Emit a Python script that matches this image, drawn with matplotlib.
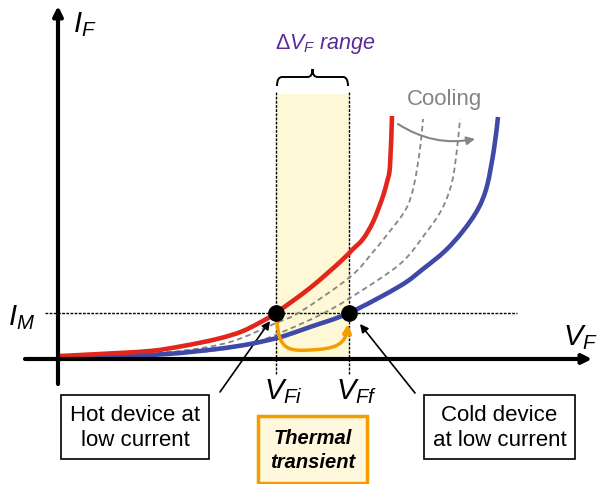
import matplotlib
matplotlib.use("Agg")
import matplotlib.pyplot as plt
import numpy as np
from matplotlib.path import Path
from matplotlib.patches import FancyArrowPatch, PathPatch, Rectangle

plt.rcParams['font.family'] = ['Liberation Sans', 'DejaVu Sans']
plt.rcParams['mathtext.fontset'] = 'custom'
plt.rcParams['mathtext.rm'] = 'Liberation Sans'
plt.rcParams['mathtext.it'] = 'Liberation Sans:italic'
plt.rcParams['mathtext.bf'] = 'Liberation Sans:bold'

# I-V curves (V, I in arbitrary units)
hot_v = [0.02, 0.42, 0.92, 1.25, 1.59, 1.85, 2.12, 2.18, 2.52, 2.82, 2.94, 3.05, 3.15, 3.24, 3.29, 3.32, 3.34]
hot_i = [0.03, 0.05, 0.08, 0.13, 0.20, 0.28, 0.42, 0.46, 0.71, 0.97, 1.09, 1.20, 1.37, 1.60, 1.77, 1.93, 2.43]

cold_v = [0.02, 0.42, 1.09, 1.59, 1.92, 2.19, 2.32, 2.52, 2.91, 3.42, 3.65, 3.87, 4.05, 4.20, 4.29, 4.36, 4.40]
cold_i = [0.02, 0.02, 0.05, 0.10, 0.15, 0.21, 0.25, 0.32, 0.46, 0.73, 0.90, 1.08, 1.28, 1.50, 1.73, 2.10, 2.42]

mid1_v = [0.72, 1.22, 1.72, 2.18, 2.42, 2.92, 3.15, 3.32, 3.48, 3.56, 3.62, 3.65]
mid1_i = [0.05, 0.08, 0.17, 0.36, 0.47, 0.82, 1.07, 1.28, 1.50, 1.74, 2.10, 2.40]

mid2_v = [0.92, 1.52, 1.92, 2.22, 2.62, 2.92, 3.42, 3.67, 3.84, 3.94, 3.99, 4.02]
mid2_i = [0.04, 0.08, 0.15, 0.26, 0.44, 0.61, 0.95, 1.25, 1.50, 1.77, 2.10, 2.40]

i_m = 0.46
v_fi = 2.18
v_ff = 2.91

RED = '#e2261c'
BLUE = '#3f4aa8'
ORANGE = '#f59c00'
PURPLE = '#5b2a96'
GREY = '#858585'


def smooth_path(xs, ys):
    # catmull-rom through the read points, drawn as cubic bezier segments
    p = np.column_stack([xs, ys])
    p = np.vstack([p[0], p, p[-1]])
    verts = [p[1]]
    codes = [Path.MOVETO]
    for k in range(1, len(p) - 2):
        c1 = p[k] + (p[k + 1] - p[k - 1]) / 6
        c2 = p[k + 1] - (p[k + 2] - p[k]) / 6
        verts += [c1, c2, p[k + 1]]
        codes += [Path.CURVE4] * 3
    return Path(verts, codes)


fig = plt.figure(figsize=(6, 4.85), dpi=100)
ax = fig.add_axes([0, 0, 1, 1])
ax.set_xlim(-0.58, 5.42)
ax.set_ylim(-1.25, 3.60)
ax.axis('off')

# shaded range
ax.add_patch(Rectangle((v_fi, 0), v_ff - v_fi, 2.65, facecolor='#fff8d6', edgecolor='none', zorder=0))

# dashed guides
for v in (v_fi, v_ff):
    ax.plot([v, v], [-0.15, 2.67], color='k', lw=1.0, ls=(0, (2, 1)), zorder=2)
ax.plot([-0.13, 4.59], [i_m, i_m], color='k', lw=1.0, ls=(0, (2, 1)), zorder=2)

# axes with arrows
ax.annotate('', xy=(0, 3.53), xytext=(0, -0.25),
            arrowprops=dict(arrowstyle='-|>', lw=3, color='k', mutation_scale=14, shrinkA=0, shrinkB=0), zorder=5)
ax.annotate('', xy=(5.34, 0), xytext=(-0.33, 0),
            arrowprops=dict(arrowstyle='-|>', lw=3, color='k', mutation_scale=14, shrinkA=0, shrinkB=0), zorder=5)

# curves
for cv, ci in ((mid1_v, mid1_i), (mid2_v, mid2_i)):
    ax.add_patch(PathPatch(smooth_path(cv, ci), facecolor='none', edgecolor=GREY, lw=1.3,
                           ls=(0, (3, 2)), zorder=3))
ax.add_patch(PathPatch(smooth_path(cold_v, cold_i), facecolor='none', edgecolor=BLUE, lw=3.3,
                       capstyle='butt', zorder=4))
ax.add_patch(PathPatch(smooth_path(hot_v, hot_i), facecolor='none', edgecolor=RED, lw=3.3,
                       capstyle='butt', zorder=4))

# thermal transient path
tp = Path([(2.19, 0.40), (2.20, 0.08), (2.32, 0.08), (2.52, 0.09),
           (2.77, 0.10), (2.88, 0.14), (2.90, 0.35)],
          [Path.MOVETO, Path.CURVE4, Path.CURVE4, Path.CURVE4,
           Path.CURVE4, Path.CURVE4, Path.CURVE4])
ax.add_patch(FancyArrowPatch(path=tp, arrowstyle='-|>', mutation_scale=12, lw=2.5,
                             color=ORANGE, zorder=5))

# operating points
ax.plot([v_fi, v_ff], [i_m, i_m], 'o', color='k', ms=11, zorder=6)

# brace
x0, x1 = v_fi + 0.01, v_ff - 0.01
xm = (x0 + x1) / 2
bp = Path([(x0, 2.73), (x0, 2.82), (x0 + 0.05, 2.82), (xm - 0.05, 2.82), (xm, 2.82), (xm, 2.90),
           (xm, 2.82), (xm + 0.05, 2.82), (x1 - 0.05, 2.82), (x1, 2.82), (x1, 2.73)],
          [Path.MOVETO, Path.CURVE3, Path.CURVE3, Path.LINETO, Path.CURVE3, Path.CURVE3,
           Path.CURVE3, Path.CURVE3, Path.LINETO, Path.CURVE3, Path.CURVE3])
ax.add_patch(PathPatch(bp, facecolor='none', edgecolor='k', lw=1.4))

# labels
ax.text(0.27, 3.35, r'$I_F$', fontsize=21, ha='center', va='center')
ax.text(-0.36, 0.42, r'$I_M$', fontsize=21, ha='center', va='center')
ax.text(5.22, 0.22, r'$V_F$', fontsize=21, ha='center', va='center')
ax.text(2.25, -0.32, r'$V_{Fi}$', fontsize=21, ha='center', va='center')
ax.text(2.99, -0.32, r'$V_{Ff}$', fontsize=21, ha='center', va='center')
ax.text(2.67, 3.16, r'$\Delta V_F\ range$', fontsize=15.5, color=PURPLE, ha='center', va='center')
ax.text(3.86, 2.60, 'Cooling', fontsize=16, color=GREY, ha='center', va='center')
ax.annotate('', xy=(4.17, 2.20), xytext=(3.40, 2.35),
            arrowprops=dict(arrowstyle='-|>', lw=1.5, color=GREY, mutation_scale=12,
                            connectionstyle='arc3,rad=0.2', shrinkA=0, shrinkB=0))

# callouts
ax.text(0.77, -0.68, 'Hot device at\nlow current', fontsize=16, ha='center', va='center',
        linespacing=1.25, bbox=dict(boxstyle='square,pad=0.4', facecolor='white', edgecolor='k', lw=1.2))
ax.annotate('', xy=(2.12, 0.38), xytext=(1.62, -0.33),
            arrowprops=dict(arrowstyle='-|>', lw=1.2, color='k', mutation_scale=12, shrinkA=0, shrinkB=0))

ax.text(4.415, -0.68, 'Cold device\nat low current', fontsize=16, ha='center', va='center',
        linespacing=1.25, bbox=dict(boxstyle='square,pad=0.4', facecolor='white', edgecolor='k', lw=1.2))
ax.annotate('', xy=(3.02, 0.35), xytext=(3.57, -0.34),
            arrowprops=dict(arrowstyle='-|>', lw=1.2, color='k', mutation_scale=12, shrinkA=0, shrinkB=0))

ax.text(2.545, -0.905, 'Thermal\ntransient', fontsize=14.5, fontweight='bold', style='italic',
        ha='center', va='center', linespacing=1.3,
        bbox=dict(boxstyle='square,pad=0.6', facecolor='#fff8dc', edgecolor=ORANGE, lw=2.5))

fig.savefig('out.png', dpi=100)
